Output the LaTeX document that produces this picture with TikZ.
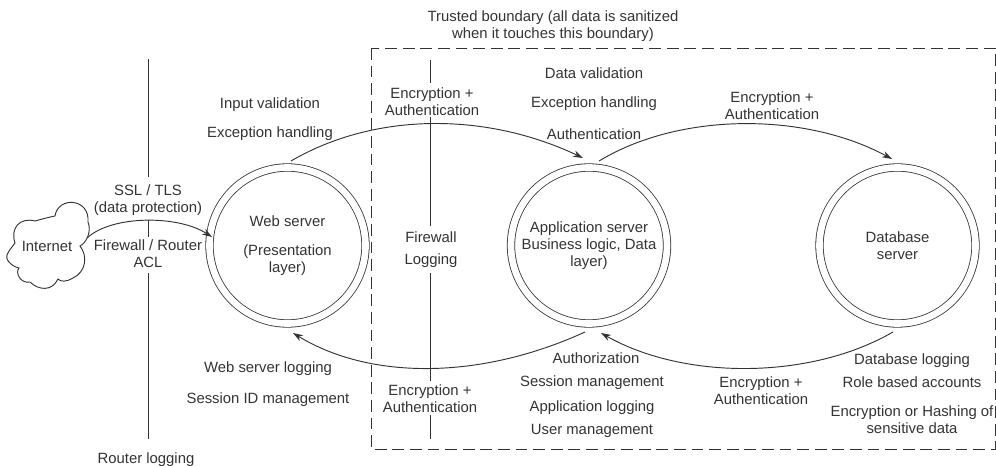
\documentclass[tikz,border=0pt]{standalone}
\usepackage{fontspec}
\setmainfont{Liberation Sans}
\usetikzlibrary{arrows.meta,calc}
\definecolor{ink}{gray}{0.2}
\tikzset{
 lbl/.style={text=ink,font=\fontsize{11.15}{12.5}\selectfont,align=center,inner sep=0pt,yshift=-1.1pt},
 srv/.style={circle,draw=ink,line width=0.6pt,double,double distance=5pt,minimum size=117pt,inner sep=0pt,align=center,text=ink,font=\fontsize{11.15}{12.5}\selectfont},
 conn/.style={draw=ink,line width=0.7pt,-{Stealth[length=7.5pt,width=5pt]}},
 wall/.style={draw=ink,line width=0.7pt},
}
\begin{document}
\begin{tikzpicture}[x=0.75pt,y=-0.75pt]
\useasboundingbox (0,0) rectangle (996,466);
\draw[draw=ink,line width=0.7pt,dash pattern=on 8.8pt off 4.4pt] (371,48) rectangle (995,449);
\node[srv] (web) at (287.5,245.5) {Web server\\[9.75pt](Presentation\\layer)};
\node[srv] (app) at (589,245.5) {Application server\\Business logic, Data\\layer)};
\node[srv] (db) at (897.5,245.5) {Database\\server};
\draw[draw=ink,line width=0.7pt] (15,243) .. controls (10,228) and (20,217) .. (35,221)
 .. controls (42,219) and (50,217) .. (55,216)
 .. controls (58,196) and (90,198) .. (88,222)
 .. controls (92,232) and (86,243) .. (80,246)
 .. controls (88,256) and (86,272) .. (73,278)
 .. controls (67,282) and (60,282) .. (58,279)
 .. controls (52,292) and (38,290) .. (30,282)
 .. controls (20,284) and (15,272) .. (19,268)
 .. controls (10,266) and (5,258) .. (7,255)
 .. controls (9,250) and (13,246) .. (15,243) -- cycle;
\node[lbl] (inet) at (47,245) {Internet};
% firewall lines
\coordinate (w1a) at (148,59); \coordinate (w1b) at (148,177);
\coordinate (w1c) at (148,220); \coordinate (w1d) at (148,237);
\coordinate (w1e) at (148,273); \coordinate (w1f) at (148,439);
\coordinate (w2a) at (430,60); \coordinate (w2b) at (430,83);
\coordinate (w2c) at (430,117); \coordinate (w2d) at (430,226);
\coordinate (w2e) at (430,273); \coordinate (w2f) at (430,381);
\coordinate (w2g) at (430,415); \coordinate (w2h) at (430,439);
\draw[wall] (w1a)--(w1b) (w1c)--(w1d) (w1e)--(w1f) (w2a)--(w2b) (w2c)--(w2d) (w2e)--(w2f) (w2g)--(w2h);
% connector ends
\coordinate (s0) at (87,238);
\coordinate (e0) at ($(web)+(-75.5,-8.5)$);
\coordinate (s1) at ($(web)+(3.5,-84.5)$);
\coordinate (e1) at ($(app)+(-6,-87.5)$);
\coordinate (s2) at ($(app)+(10,-84.5)$);
\coordinate (e2) at ($(db)+(-5.5,-86.5)$);
\coordinate (s3) at ($(app)+(-4,86.5)$);
\coordinate (e3) at ($(web)+(5.5,87.5)$);
\coordinate (s4) at ($(db)+(-4.5,86.5)$);
\coordinate (e4) at ($(app)+(12,87.5)$);
\draw[conn] (s0) .. controls (112,215) and (178,215) .. (e0);
\draw[conn] (s1) .. controls (375,112) and (486,112) .. (e1);
\draw[conn] (s2) .. controls (680,112) and (805,112) .. (e2);
\draw[conn] (s3) .. controls (480,380) and (370,380) .. (e3);
\draw[conn] (s4) .. controls (810,380) and (684,380) .. (e4);
\node[lbl] (t1) at (553,25) {Trusted boundary (all data is sanitized\\when it touches this boundary)};
\node[lbl] (t2) at (270,103) {Input validation};
\node[lbl] (t3) at (270,132) {Exception handling};
\node[lbl] (t4) at (432,100.5) {Encryption +\\Authentication};
\node[lbl] (t5) at (594,72) {Data validation};
\node[lbl] (t6) at (594,102) {Exception handling};
\node[lbl] (t7) at (594,133) {Authentication};
\node[lbl] (t8) at (772,104.5) {Encryption +\\Authentication};
\node[lbl] (t9) at (148,198.5) {SSL / TLS\\(data protection)};
\node[lbl] (t10) at (148,252.5) {Firewall / Router\\ACL};
\node[lbl] (t11) at (431,248) {Firewall\\[4pt]Logging};
\node[lbl] (t12) at (268,367) {Web server logging};
\node[lbl] (t13) at (268,398) {Session ID management};
\node[lbl] (t14) at (430,397.5) {Encryption +\\Authentication};
\node[lbl] (t15) at (596,357) {Authorization};
\node[lbl] (t16) at (592,381) {Session management};
\node[lbl] (t17) at (592,406) {Application logging};
\node[lbl] (t18) at (592,429) {User management};
\node[lbl] (t19) at (761,389) {Encryption +\\Authentication};
\node[lbl] (t20) at (912,359) {Database logging};
\node[lbl] (t21) at (912,381) {Role based accounts};
\node[lbl] (t22) at (912,418.5) {Encryption or Hashing of\\sensitive data};
\node[lbl] (t23) at (146,458) {Router logging};
\end{tikzpicture}
\end{document}
